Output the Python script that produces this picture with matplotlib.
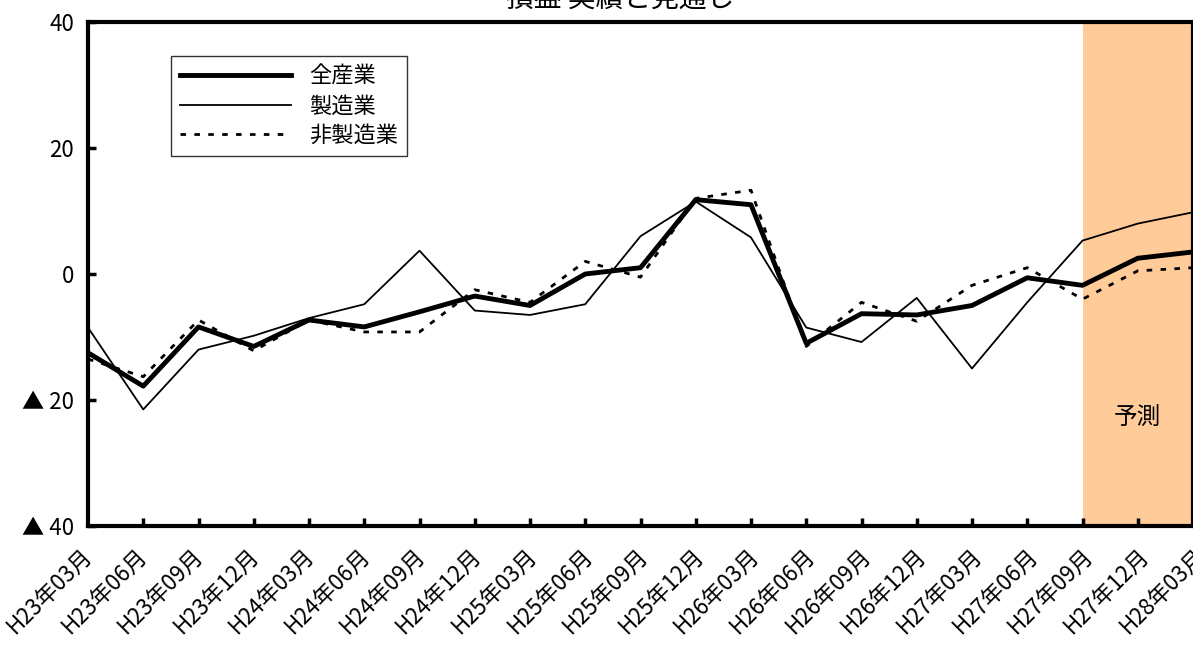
import numpy as np
import matplotlib.pyplot as plt

plt.rcParams['font.family'] = ['Noto Sans CJK JP', 'DejaVu Sans']
plt.rcParams['font.size'] = 14

labels = ['H23年03月', 'H23年06月', 'H23年09月', 'H23年12月', 'H24年03月', 'H24年06月',
          'H24年09月', 'H24年12月', 'H25年03月', 'H25年06月', 'H25年09月', 'H25年12月',
          'H26年03月', 'H26年06月', 'H26年09月', 'H26年12月', 'H27年03月', 'H27年06月',
          'H27年09月', 'H27年12月', 'H28年03月']
all_ind = [-12.5, -17.8, -8.4, -11.5, -7.3, -8.4, -6.0, -3.5, -5.0, 0.0, 1.0,
           11.8, 11.0, -11.0, -6.3, -6.5, -5.0, -0.6, -1.8, 2.5, 3.5]
manuf = [-8.5, -21.5, -12.0, -9.8, -7.0, -4.8, 3.7, -5.8, -6.5, -4.8, 6.0,
         11.5, 5.8, -8.5, -10.8, -3.8, -15.0, -4.5, 5.3, 8.0, 9.8]
nonmanuf = [-13.5, -16.3, -7.3, -12.2, -7.3, -9.2, -9.2, -2.5, -4.5, 2.0, -0.5,
            12.0, 13.3, -11.5, -4.5, -7.5, -1.8, 1.0, -4.0, 0.5, 1.0]
forecast_start = 18

x = np.arange(len(all_ind))

fig = plt.figure(figsize=(11.93, 6.59), dpi=100)
ax = fig.add_axes([88/1193, 133/659, 1105/1193, 504/659])

ax.axvspan(forecast_start, x[-1], color='#FFCC99', lw=0)
ax.text(19, -23, '予測', ha='center', va='center', fontsize=17)

ax.plot(x, all_ind, '-k', lw=3.5, label='全産業')
ax.plot(x, manuf, '-k', lw=1.3, label='製造業')
ax.plot(x, nonmanuf, color='k', lw=2, ls=(0, (2, 3)), label='非製造業')

ax.set_xlim(0, x[-1])
ax.set_ylim(-40, 40)
ax.set_yticks([-40, -20, 0, 20, 40])
ax.set_yticklabels(['▲ 40', '▲ 20', '0', '20', '40'])
ax.set_xticks(x[1:-1])
ax.set_xticklabels([])
ax.tick_params(direction='in', width=2.5, length=6, labelsize=16, pad=10)
for s in ax.spines.values():
    s.set_linewidth(3)

# category labels (rotated), spaced like the reference
for i, lab in enumerate(labels):
    xa = (i * 55.65 - 8) / 1105
    ax.text(xa, -0.035, lab, transform=ax.transAxes, rotation=45,
            ha='right', va='top', rotation_mode='anchor', fontsize=16)

ax.legend(loc='upper left', bbox_to_anchor=(0.065, 0.955), frameon=True,
          fancybox=False, edgecolor='k', fontsize=16, handlelength=5,
          borderpad=0.4, labelspacing=0.3)

fig.text(0.52, 1.0, '損益 実績と見通し', ha='center', va='center', fontsize=20)

plt.savefig('out.png')
